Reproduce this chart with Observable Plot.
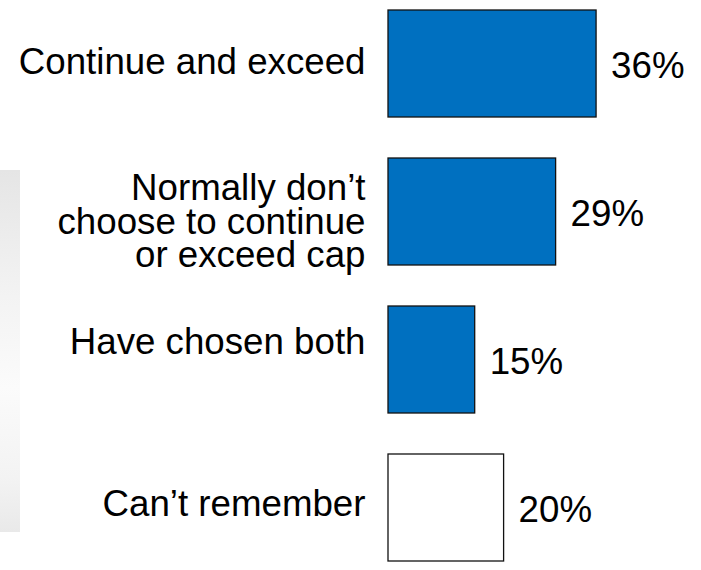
<!DOCTYPE html>
<html>
<head>
<meta charset="utf-8">
<script src="https://cdn.jsdelivr.net/npm/d3@7"></script>
<script src="https://cdn.jsdelivr.net/npm/@observablehq/plot@0.6"></script>
<style>
  html, body { margin: 0; padding: 0; background: #fff; }
  #wrap { position: relative; width: 701px; height: 570px; overflow: hidden; }
  #panel { position: absolute; left: 0; top: 170px; width: 20px; height: 362px;
    background: linear-gradient(to bottom, #e5e5e5 0%, #f3f3f3 35%, #fbfbfb 60%, #f3f3f3 85%, #e9e9e9 100%); }
  #chart { position: absolute; left: 0; top: 0; }
  #chart svg { background: transparent !important; }
</style>
</head>
<body>
<div id="wrap"><div id="panel"></div><div id="chart"></div></div>
<script>
const categories = [
  "Continue and exceed",
  "Normally don’t\nchoose to continue\nor exceed cap",
  "Have chosen both",
  "Can’t remember"
];
const values = [36, 29, 15, 20];
const valueLabels = ["36%", "29%", "15%", "20%"];
const fills = ["#0070C0", "#0070C0", "#0070C0", "#FFFFFF"];
const labelShifts = [-1, 11, -17, -3];

const data = categories.map((c, i) => ({
  category: c, value: values[i], label: valueLabels[i], fill: fills[i], shift: labelShifts[i]
}));

const font = "'Liberation Sans', Arial, sans-serif";

const catMarks = data.map(d =>
  Plot.text([d], {
    x: 0, y: "category", text: "category",
    textAnchor: "end", dx: -23, dy: d.shift,
    lineHeight: 0.907, fontSize: 36.7, fontFamily: font, fill: "#000"
  })
);

const chart = Plot.plot({
  width: 701,
  height: 570,
  marginLeft: 388,
  marginRight: 24,
  marginTop: 9,
  marginBottom: 9,
  style: { background: "transparent", fontFamily: font },
  x: { domain: [0, 50], axis: null },
  y: { domain: categories, axis: null, paddingInner: 0.278, paddingOuter: 0 },
  marks: [
    Plot.barX(data, {
      x: "value", y: "category", fill: "fill",
      stroke: "#111", strokeWidth: 1.3
    }),
    Plot.text(data, {
      x: "value", y: "category", text: "label",
      textAnchor: "start", dx: 14.5, dy: 2,
      fontSize: 36.7, fontFamily: font, fill: "#000"
    }),
    ...catMarks
  ]
});
document.getElementById("chart").appendChild(chart);
</script>
</body>
</html>
